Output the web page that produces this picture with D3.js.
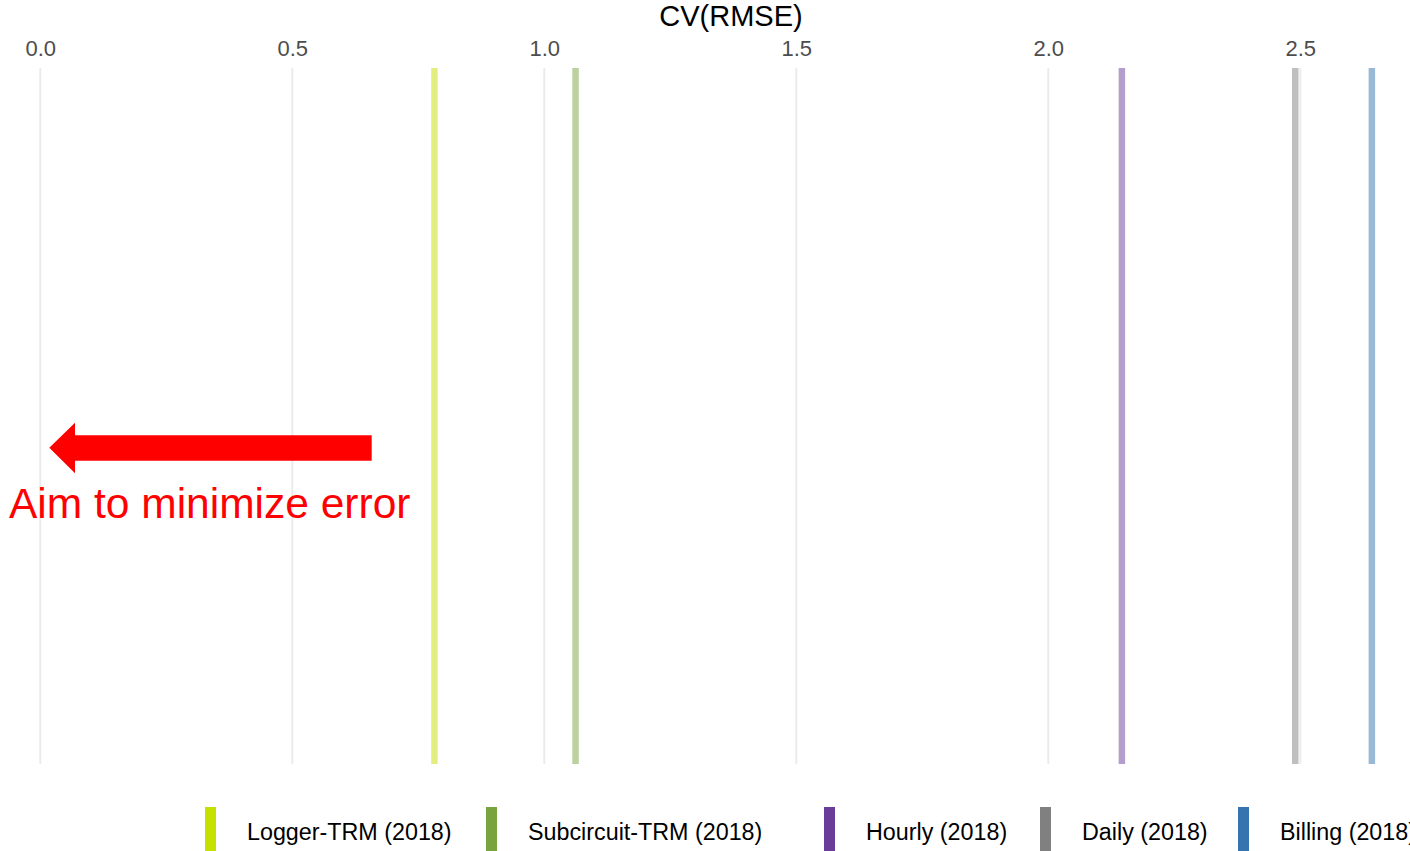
<!DOCTYPE html>
<html>
<head>
<meta charset="utf-8">
<script src="https://cdn.jsdelivr.net/npm/d3@7"></script>
<style>
  html, body { margin: 0; padding: 0; background: #fff; }
  svg { display: block; font-family: "Liberation Sans", Arial, sans-serif; }
</style>
</head>
<body>
<svg id="chart" width="1410" height="851"></svg>
<script>
// ---- data ----
const categories = ["Logger-TRM (2018)", "Subcircuit-TRM (2018)", "Hourly (2018)", "Daily (2018)", "Billing (2018)"];
const cvrmse = [0.782, 1.062, 2.146, 2.490, 2.642];
const colors = ["#c6e000", "#79a33f", "#6a3d9a", "#808080", "#3674ae"];
const tickValues = [0.0, 0.5, 1.0, 1.5, 2.0, 2.5];
const tickLabels = ["0.0", "0.5", "1.0", "1.5", "2.0", "2.5"];
const axisTitle = "CV(RMSE)";
const annotation = "Aim to minimize error";

// ---- layout ----
const plotTop = 68, plotBottom = 764;
const legendX = [205, 486, 824, 1040, 1238];

const svg = d3.select("#chart");
const x = d3.scaleLinear().domain([0, 2.7]).range([40.3, 40.3 + 504 * 2.7]);

// gridlines
svg.append("g").selectAll("line").data(tickValues).join("line")
  .attr("x1", d => x(d)).attr("x2", d => x(d))
  .attr("y1", plotTop).attr("y2", plotBottom)
  .attr("stroke", "#ebebeb").attr("stroke-width", 2);

// top axis labels
const axis = d3.axisTop(x).tickValues(tickValues)
  .tickFormat((d, i) => tickLabels[i]).tickSize(0).tickPadding(0);
const gAxis = svg.append("g").attr("transform", "translate(0,56)").call(axis);
gAxis.select(".domain").remove();
gAxis.selectAll("text")
  .attr("font-size", 22).attr("fill", "#4d4d4d")
  .attr("font-family", "'Liberation Sans', Arial, sans-serif")
  .attr("dy", 0);

// axis title
svg.append("text").attr("x", 731).attr("y", 26)
  .attr("text-anchor", "middle").attr("font-size", 29).attr("fill", "#000")
  .text(axisTitle);

// value lines
svg.append("g").selectAll("line").data(cvrmse).join("line")
  .attr("x1", d => x(d)).attr("x2", d => x(d))
  .attr("y1", plotTop).attr("y2", plotBottom)
  .attr("stroke", (d, i) => colors[i]).attr("stroke-opacity", 0.5)
  .attr("stroke-width", 6.5);

// annotation arrow
const arrowPath = d3.path();
arrowPath.moveTo(49.3, 447.7);
arrowPath.lineTo(75, 422.7);
arrowPath.lineTo(75, 435.3);
arrowPath.lineTo(371.7, 435.3);
arrowPath.lineTo(371.7, 460.7);
arrowPath.lineTo(75, 460.7);
arrowPath.lineTo(75, 473.3);
arrowPath.closePath();
svg.append("path").attr("d", arrowPath.toString()).attr("fill", "#ff0000");

svg.append("text").attr("x", 9).attr("y", 518)
  .attr("font-size", 42.5).attr("fill", "#ff0000")
  .text(annotation);

// legend
const lg = svg.append("g").selectAll("g").data(categories).join("g")
  .attr("transform", (d, i) => `translate(${legendX[i]},0)`);
lg.append("rect").attr("x", 0).attr("y", 807).attr("width", 11).attr("height", 50)
  .attr("fill", (d, i) => colors[i]);
lg.append("text").attr("x", 42).attr("y", 840)
  .attr("font-size", 23.3).attr("fill", "#000")
  .text(d => d);
</script>
</body>
</html>
